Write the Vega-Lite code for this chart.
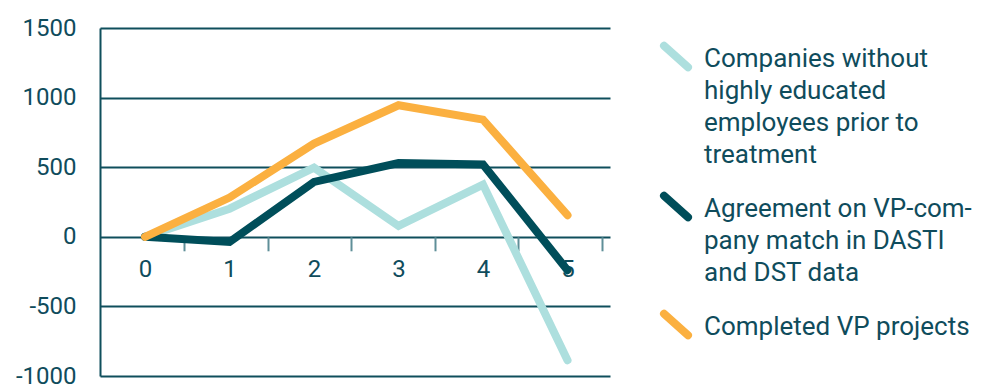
{
  "$schema": "https://vega.github.io/schema/vega-lite/v6.json",
  "width": 510,
  "height": 348,
  "autosize": {"type": "none"},
  "padding": {"left": 100, "top": 28, "right": 373, "bottom": 9},
  "background": "white",
  "data": {
    "values": [
      {"year": 0, "value": 0, "series": "Companies without highly educated employees prior to treatment"},
      {"year": 1, "value": 202, "series": "Companies without highly educated employees prior to treatment"},
      {"year": 2, "value": 497, "series": "Companies without highly educated employees prior to treatment"},
      {"year": 3, "value": 78, "series": "Companies without highly educated employees prior to treatment"},
      {"year": 4, "value": 375, "series": "Companies without highly educated employees prior to treatment"},
      {"year": 5, "value": -887, "series": "Companies without highly educated employees prior to treatment"},
      {"year": 0, "value": 0, "series": "Agreement on VP-company match in DASTI and DST data"},
      {"year": 1, "value": -37, "series": "Agreement on VP-company match in DASTI and DST data"},
      {"year": 2, "value": 394, "series": "Agreement on VP-company match in DASTI and DST data"},
      {"year": 3, "value": 530, "series": "Agreement on VP-company match in DASTI and DST data"},
      {"year": 4, "value": 520, "series": "Agreement on VP-company match in DASTI and DST data"},
      {"year": 5, "value": -240, "series": "Agreement on VP-company match in DASTI and DST data"},
      {"year": 0, "value": 0, "series": "Completed VP projects"},
      {"year": 1, "value": 282, "series": "Completed VP projects"},
      {"year": 2, "value": 670, "series": "Completed VP projects"},
      {"year": 3, "value": 945, "series": "Completed VP projects"},
      {"year": 4, "value": 842, "series": "Completed VP projects"},
      {"year": 5, "value": 155, "series": "Completed VP projects"}
    ]
  },
  "mark": {"type": "line", "strokeWidth": 8, "strokeCap": "round"},
  "encoding": {
    "x": {
      "field": "year",
      "type": "quantitative",
      "scale": {"domain": [-0.533, 5.503], "nice": false, "zero": false},
      "axis": {
        "title": null,
        "values": [0, 0.46, 1, 1.45, 2, 2.44, 3, 3.43, 4, 4.42, 5, 5.41],
        "labelExpr": "datum.value % 1 == 0 ? format(datum.value, 'd') : ''",
        "tickOpacity": {"condition": {"test": "datum.value % 1 == 0", "value": 0}, "value": 1},
        "domain": false,
        "grid": false,
        "offset": -139.2,
        "tickSize": 14,
        "tickWidth": 2,
        "tickColor": "#5f8f98",
        "labelPadding": 7,
        "labelFontSize": 24,
        "labelFont": "Roboto",
        "labelColor": "#0f4c5c",
        "labelOverlap": false,
        "labelFlush": false,
        "labelBound": false
      }
    },
    "y": {
      "field": "value",
      "type": "quantitative",
      "scale": {"domain": [-1000, 1500], "nice": false},
      "axis": {
        "title": null,
        "values": [-1000, -500, 0, 500, 1000, 1500],
        "labelExpr": "'' + datum.value",
        "ticks": false,
        "grid": true,
        "gridColor": "#0f4f5c",
        "gridWidth": 2,
        "domain": true,
        "domainColor": "#0f4f5c",
        "domainWidth": 2,
        "labelPadding": 24,
        "labelFontSize": 24,
        "labelFont": "Roboto",
        "labelColor": "#0f4c5c"
      }
    },
    "color": {
      "field": "series",
      "type": "nominal",
      "scale": {
        "domain": [
          "Companies without highly educated employees prior to treatment",
          "Agreement on VP-company match in DASTI and DST data",
          "Completed VP projects"
        ],
        "range": ["#addfde", "#004e5a", "#fbb040"]
      },
      "legend": {
        "title": null,
        "orient": "none",
        "legendX": 560,
        "legendY": 2,
        "symbolType": "M-1,-0.025L1,1.775",
        "symbolSize": 576,
        "symbolStrokeWidth": 8,
        "labelFontSize": 26,
        "labelFont": "Roboto",
        "labelColor": "#0f4c5c",
        "labelBaseline": "top",
        "labelOffset": 12,
        "labelLimit": 400,
        "rowPadding": 11,
        "encode": {"symbols": {"update": {"strokeCap": {"value": "round"}}}},
        "labelExpr": "datum.label == 'Companies without highly educated employees prior to treatment' ? ['Companies without', 'highly educated', 'employees prior to', 'treatment'] : datum.label == 'Agreement on VP-company match in DASTI and DST data' ? ['Agreement on VP-com-', 'pany match in DASTI', 'and DST data'] : datum.label"
      }
    }
  },
  "config": {
    "view": {"stroke": null},
    "style": {"guide-label": {"lineHeight": 32}}
  }
}
